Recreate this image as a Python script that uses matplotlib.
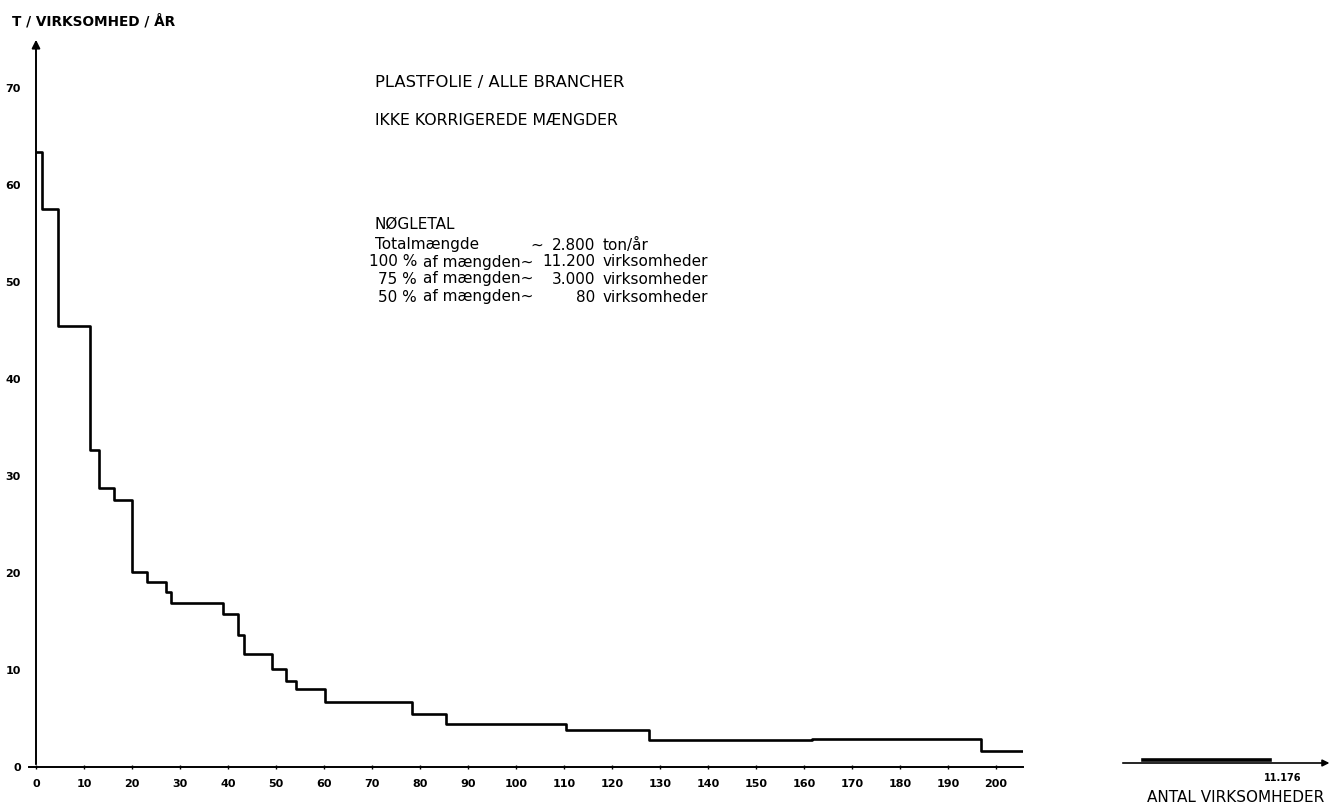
import matplotlib.pyplot as plt

# step curve: start of each step (antal virksomheder) and level (t / virksomhed / år)
step_x = [0, 1.3, 4.6, 11.2, 13.2, 16.2, 20.1, 23.2, 27.0, 28.1, 39.0, 42.0, 43.4,
          49.2, 52.1, 54.2, 60.2, 78.4, 85.4, 110.4, 127.6, 161.6, 196.9, 205.6]
step_y = [63.4, 57.6, 45.5, 32.7, 28.8, 27.5, 20.1, 19.1, 18.0, 16.9, 15.8, 13.6, 11.7,
          10.1, 8.9, 8.0, 6.7, 5.5, 4.4, 3.8, 2.8, 2.9, 1.7, 1.7]

# tail of the curve on the broken part of the axis
tail_x = [11026, 11168]
tail_y = [0.3, 0.3]
total_firms = 11176

x_ticks = list(range(0, 201, 10))
y_ticks = list(range(0, 71, 10))

key_pct = ["100 %", "75 %", "50 %"]
key_num = ["2.800", "11.200", "3.000", "80"]
key_unit = ["ton/år", "virksomheder", "virksomheder", "virksomheder"]

W, H = 1334, 805
fig = plt.figure(figsize=(W / 100, H / 100), dpi=100)


def px(x, y):
    return x / W, 1 - y / H


# main axes: x=0 at px 36, y=0 at px 767, 4.8 px per firm, 9.7 px per ton
ax = fig.add_axes([36 / W, (H - 767) / H, (1023 - 36) / W, (767 - 37) / H])
ax.set_xlim(0, 205.6)
ax.set_ylim(0, 75.3)
for s in ax.spines.values():
    s.set_visible(False)

ax.step(step_x, step_y, where="post", color="black", lw=1.9)
ax.plot([-1.5, 205.6], [0, 0], color="black", lw=1.4, clip_on=False)
ax.annotate("", xy=(0, 75.3), xytext=(0, 0),
            arrowprops=dict(arrowstyle="-|>", lw=1.4, color="black", mutation_scale=12),
            annotation_clip=False)

ax.set_xticks(x_ticks)
ax.set_yticks(y_ticks)
ax.tick_params(axis="x", length=3, direction="inout", width=1, pad=7)
ax.tick_params(axis="y", length=0, pad=11)
for lab in ax.get_xticklabels() + ax.get_yticklabels():
    lab.set_fontsize(8)
    lab.set_fontweight("bold")

# broken axis on the right
ax2 = fig.add_axes([1120 / W, (H - 763) / H, (W - 1120) / W, (763 - 37) / H])
ax2.set_xlim(11000, 11240)
ax2.set_ylim(0, 74.8)
ax2.axis("off")
ax2.plot(tail_x, tail_y, color="black", lw=2.6)
ax2.annotate("", xy=(11238, 0), xytext=(11000, 0),
             arrowprops=dict(arrowstyle="-|>", lw=1.2, color="black", mutation_scale=10),
             annotation_clip=False)
ax2.text(total_firms + 7, -1.5, f"{total_firms / 1000:.3f}", ha="center", va="center",
         fontsize=7, fontweight="bold")

fig.text(*px(1236, 797), "ANTAL VIRKSOMHEDER", ha="center", va="center", fontsize=11)
fig.text(*px(12, 21), "T / VIRKSOMHED / ÅR", ha="left", va="center",
         fontsize=9.8, fontweight="bold")

# titles and key figures
fig.text(*px(375, 82), "PLASTFOLIE / ALLE BRANCHER", ha="left", va="center", fontsize=11.8)
fig.text(*px(375, 120), "IKKE KORRIGEREDE MÆNGDER", ha="left", va="center", fontsize=11.3)

rows_y = [245, 262, 279, 297]
fig.text(*px(375, 224), "NØGLETAL", ha="left", va="center", fontsize=11)
fig.text(*px(375, rows_y[0]), "Totalmængde", ha="left", va="center", fontsize=11)
fig.text(*px(537, rows_y[0]), "~", ha="center", va="center", fontsize=11)
for i, pct in enumerate(key_pct):
    fig.text(*px(417, rows_y[i + 1]), pct, ha="right", va="center", fontsize=11)
    fig.text(*px(423, rows_y[i + 1]), "af mængden~", ha="left", va="center", fontsize=11)
for i in range(4):
    fig.text(*px(595, rows_y[i]), key_num[i], ha="right", va="center", fontsize=11)
    fig.text(*px(603, rows_y[i]), key_unit[i], ha="left", va="center", fontsize=11)

plt.savefig("out.png", dpi=100)
